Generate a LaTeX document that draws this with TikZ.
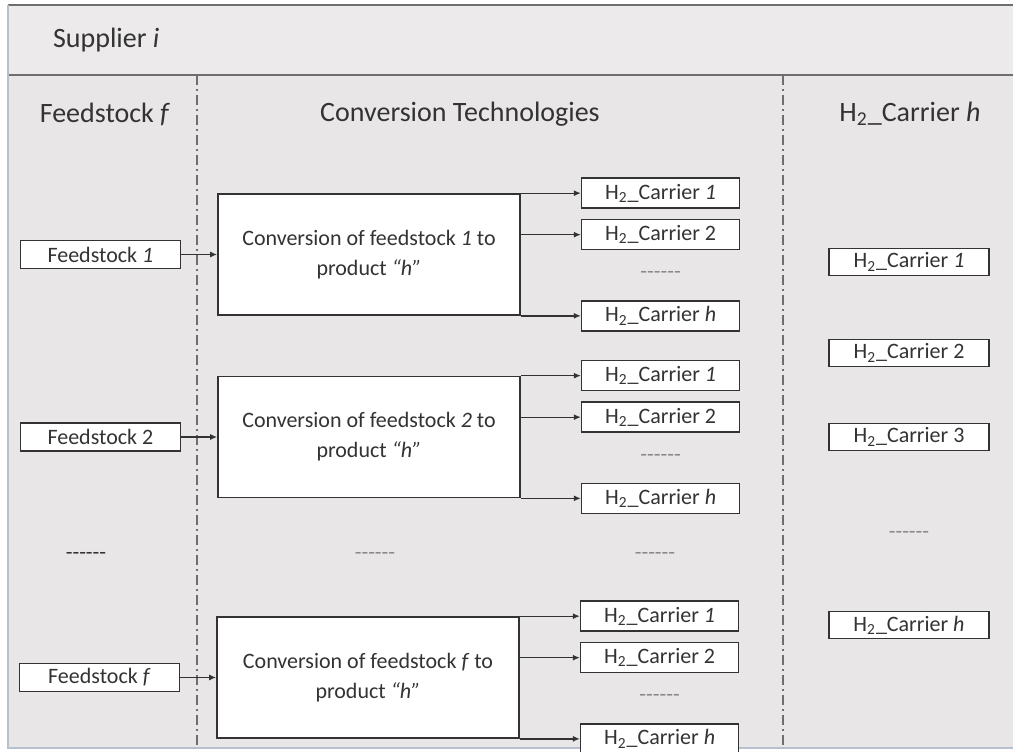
\documentclass[tikz,border=0pt]{standalone}
\usepackage{fontspec}
\setmainfont{Carlito}
\usetikzlibrary{arrows.meta,positioning,calc}
\definecolor{panel}{HTML}{E8E6E6}
\definecolor{band}{HTML}{ECEAEA}
\definecolor{ink}{HTML}{333333}
\definecolor{rule}{HTML}{6E6E6E}
\definecolor{edge}{HTML}{B7C0CE}
\definecolor{dotgray}{HTML}{8A8A8A}
\newcommand{\htwo}{H\textsubscript{2}\_Carrier}
\newcommand{\dashrow}{-{}-{}-{}-{}-{}-}

\begin{document}
\begin{tikzpicture}[
    x=0.5pt, y=-0.5pt,
    feedbox/.style={
      draw=ink,
      fill=white,
      line width=0.75pt,
      minimum width=80pt,
      minimum height=14pt,
      inner sep=0pt,
      text=ink,
      font=\fontsize{11}{13}\selectfont
    },
    convbox/.style={
      draw=ink,
      fill=white,
      line width=0.85pt,
      minimum width=151pt,
      minimum height=60.5pt,
      align=center,
      text=ink,
      font=\fontsize{11}{15}\selectfont
    },
    carrierbox/.style={
      draw=ink,
      fill=white,
      line width=0.75pt,
      minimum width=79pt,
      minimum height=15pt,
      inner sep=0pt,
      text=ink,
      font=\fontsize{11}{13}\selectfont
    },
    heading/.style={text=ink, font=\fontsize{14}{16}\selectfont},
    dotrow/.style={text=dotgray, font=\fontsize{11}{13}\selectfont},
    arrow/.style={-{Latex[length=3.5pt,width=3pt]}, line width=0.65pt, draw=ink},
    divider/.style={draw=rule, line width=0.6pt, dash pattern=on 5pt off 2pt on 1pt off 2pt}
  ]
    \useasboundingbox (0,0) rectangle (1013,751);

    % panel and header band
    \fill[panel] (8,5) rectangle (1013,748);
    \fill[band] (8,5) rectangle (1013,75);
    \draw[rule, line width=0.9pt] (8,5) -- (1013,5);
    \draw[rule, line width=0.9pt] (8,75) -- (1013,75);
    \draw[edge, line width=1.2pt] (8,5) -- (8,748) -- (1013,748);
    \draw[divider] (197,75) -- (197,748);
    \draw[divider] (783,75) -- (783,748);

    \node[heading, anchor=west] (supplier) at (46,40) {Supplier \textit{i}};
    \node[heading] (hfeed) at (105,114) {Feedstock \textit{f}};
    \node[heading] (hconv) at (460,114) {Conversion Technologies};
    \node[heading] (hcarrier) at (910,114) {H\textsubscript{2}\_Carrier \textit{h}};

    % conversion technologies
    \node[convbox] (conv1) at (369,254.5)
      {Conversion of feedstock \textit{1} to\\product \textit{“h”}};
    \node[convbox] (conv2) at (369,437)
      {Conversion of feedstock \textit{2} to\\product \textit{“h”}};
    \node[convbox] (conv3) at (368,677.5)
      {Conversion of feedstock \textit{f} to\\product \textit{“h”}};

    % feedstocks
    \node[feedbox, left=18pt of conv1] (feed1) {Feedstock \textit{1}};
    \node[feedbox, left=18pt of conv2] (feed2) {Feedstock 2};
    \node[feedbox, left=18pt of conv3] (feedf) {Feedstock \textit{f}};
    \node[dotrow, text=ink] (dfeed) at (86,556) {\dashrow};
    \node[dotrow] (dconv) at (375,556) {\dashrow};
    \node[dotrow] (dcarr) at (655,556) {\dashrow};

    % carriers per conversion
    \foreach \c in {1,2,3}{
      \node[carrierbox, right=30pt of conv\c.north east] (c\c a) {\htwo{} \textit{1}};
      \node[carrierbox, below=5pt of c\c a] (c\c b) {\htwo{} 2};
      \node[carrierbox, right=30pt of conv\c.south east] (c\c h) {\htwo{} \textit{h}};
      \node[dotrow] (c\c d) at ($(c\c b)!0.5!(c\c h)$) {\dashrow};
      \draw[arrow] (c\c a.west -| conv\c.east) -- (c\c a.west);
      \draw[arrow] (c\c b.west -| conv\c.east) -- (c\c b.west);
      \draw[arrow] (c\c h.west -| conv\c.east) -- (c\c h.west);
    }

    \draw[arrow] (feed1) -- (conv1);
    \draw[arrow] (feed2) -- (conv2);
    \draw[arrow] (feedf) -- (conv3);

    % carrier list
    \node[feedbox, minimum height=13.5pt] (h1) at (909,262) {\htwo{} \textit{1}};
    \node[feedbox, minimum height=13.5pt] (h2) at (909,353) {\htwo{} 2};
    \node[feedbox, minimum height=13.5pt] (h3) at (909,437) {\htwo{} 3};
    \node[dotrow] (hd) at (909,535) {\dashrow};
    \node[feedbox, minimum height=13.5pt] (hh) at (909,625) {\htwo{} \textit{h}};
  \end{tikzpicture}
\end{document}
